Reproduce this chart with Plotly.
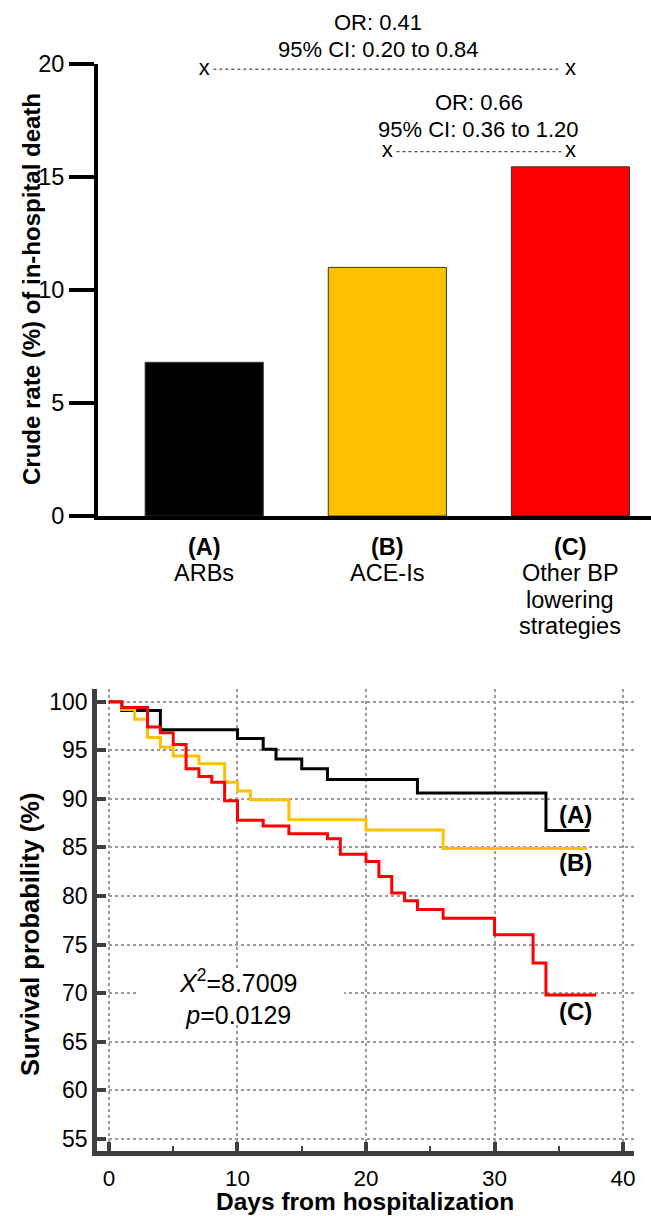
import plotly.graph_objects as go

# ---------------- data: bar chart ----------------
bar_letters = ["(A)", "(B)", "(C)"]
bar_names = [["ARBs"], ["ACE-Is"], ["Other BP", "lowering", "strategies"]]
bar_values = [6.8, 11.0, 15.45]
bar_colors = ["#000000", "#FFC000", "#FF0000"]

cmp1_from, cmp1_to, cmp1_y = 0, 2, 19.77
cmp1_lines = ["OR: 0.41", "95% CI: 0.20 to 0.84"]
cmp2_from, cmp2_to, cmp2_y = 1, 2, 16.12
cmp2_lines = ["OR: 0.66", "95% CI: 0.36 to 1.20"]

# ---------------- data: Kaplan-Meier ----------------
a_days = [0, 1, 4, 10, 12, 13, 15, 17, 24, 34, 37.4]
a_surv = [100, 99.1, 97.1, 96.2, 95.1, 94.1, 93.1, 92.0, 90.6, 86.75, 86.75]
b_days = [0, 1, 2, 3, 4, 5, 7, 9, 10, 11, 14, 20, 26, 37.2]
b_surv = [100, 99.2, 98.2, 96.3, 95.3, 94.4, 93.6, 91.7, 90.8, 89.9, 87.85, 86.8, 84.9, 84.9]
c_days = [0, 1, 3, 4, 5, 6, 7, 8, 9, 10, 12, 14, 17, 18, 20, 21, 22, 23, 24, 26, 30, 33, 34, 37.9]
c_surv = [100, 99.4, 97.4, 96.8, 95.6, 93.1, 92.3, 91.7, 89.8, 87.8, 87.2, 86.4, 85.9, 84.3,
          83.55, 82.0, 80.3, 79.5, 78.6, 77.7, 76.0, 73.1, 69.8, 69.8]
km_labels = ["(A)", "(B)", "(C)"]
km_label_y = [88.4, 83.45, 68.1]
chi_text = "<i>X</i><sup>2</sup>=8.7009<br><i>p</i>=0.0129"

FONT = "Arial, Liberation Sans, sans-serif"
W, H = 651, 1216

fig = go.Figure()

# bars
fig.add_trace(go.Bar(
    x=[0, 1, 2], y=bar_values, width=0.645,
    marker=dict(color=bar_colors, line=dict(color="#333333", width=1)),
    xaxis="x", yaxis="y", showlegend=False, hoverinfo="skip"))

# comparison brackets
for x0, x1, yy in [(cmp1_from, cmp1_to, cmp1_y), (cmp2_from, cmp2_to, cmp2_y)]:
    fig.add_trace(go.Scatter(
        x=[x0 + 0.05, x1 - 0.05], y=[yy, yy], mode="lines",
        line=dict(color="#222222", width=1, dash="dot"),
        xaxis="x", yaxis="y", showlegend=False, hoverinfo="skip", cliponaxis=False))
    fig.add_trace(go.Scatter(
        x=[x0, x1], y=[yy, yy], mode="text", text=["x", "x"],
        textposition="middle center", textfont=dict(size=22, color="#000000", family=FONT),
        xaxis="x", yaxis="y", showlegend=False, hoverinfo="skip", cliponaxis=False))

# KM curves
for d, s, col in [(a_days, a_surv, "#000000"), (b_days, b_surv, "#FFC000"), (c_days, c_surv, "#FF0000")]:
    fig.add_trace(go.Scatter(
        x=d, y=s, mode="lines", line=dict(color=col, width=3, shape="hv"),
        xaxis="x2", yaxis="y2", showlegend=False, hoverinfo="skip"))

def px_x(p):
    return p / W

def px_y(p):
    return 1 - p / H

annotations = [
    dict(text="<b>Crude rate (%) of in-hospital death</b>", x=px_x(31), y=px_y(289),
         xref="paper", yref="paper", showarrow=False, textangle=-90,
         xanchor="center", yanchor="middle",
         font=dict(size=24, family=FONT, color="#000000")),
    dict(text="<b>Survival probability (%)</b>", x=px_x(30), y=px_y(935),
         xref="paper", yref="paper", showarrow=False, textangle=-90,
         xanchor="center", yanchor="middle",
         font=dict(size=25.5, family=FONT, color="#000000")),
    dict(text="<b>Days from hospitalization</b>", x=px_x(365), y=px_y(1201),
         xref="paper", yref="paper", showarrow=False,
         xanchor="center", yanchor="middle",
         font=dict(size=24.5, family=FONT, color="#000000")),
    dict(text=chi_text, x=10.1, y=69.65, xref="x2", yref="y2", showarrow=False,
         xanchor="center", yanchor="middle",
         font=dict(size=25, family=FONT, color="#000000"), align="center"),
]
# comparison texts (one annotation per line)
for xc, lines, ys in [(0.95, cmp1_lines, [23, 49.5]), (1.5, cmp2_lines, [103, 129])]:
    for txt, yp in zip(lines, ys):
        annotations.append(dict(text=txt, x=xc, y=px_y(yp), xref="x", yref="paper",
                                showarrow=False, xanchor="center", yanchor="middle",
                                font=dict(size=22, family=FONT, color="#000000")))
for lab, yy in zip(km_labels, km_label_y):
    annotations.append(dict(text="<b>" + lab + "</b>", x=36.3, y=yy, xref="x2", yref="y2",
                            xanchor="center", yanchor="middle",
                            showarrow=False, font=dict(size=24, family=FONT, color="#000000")))

# category labels under the bars (one text per line)
line_px = [546.7, 573, 599.5, 626]
for i, (lab, names) in enumerate(zip(bar_letters, bar_names)):
    annotations.append(dict(text="<b>" + lab + "</b>", x=i, y=px_y(line_px[0]), xref="x",
                            yref="paper", showarrow=False, xanchor="center", yanchor="middle",
                            font=dict(size=23.5, family=FONT, color="#000000")))
    for j, nm in enumerate(names):
        annotations.append(dict(text=nm, x=i, y=px_y(line_px[j + 1]), xref="x",
                                yref="paper", showarrow=False, xanchor="center",
                                yanchor="middle",
                                font=dict(size=23.5, family=FONT, color="#000000")))

fig.update_layout(
    width=W, height=H, margin=dict(l=0, r=0, t=0, b=0),
    paper_bgcolor="white", plot_bgcolor="white",
    font=dict(family=FONT, size=22, color="#000000"),
    showlegend=False,
    xaxis=dict(domain=[98 / W, 1.0], anchor="y", range=[-0.58, 2.44],
               tickvals=[0, 1, 2], showticklabels=False,
               ticks="", showline=True, linecolor="#000000", linewidth=4,
               showgrid=False, zeroline=False, automargin=False),
    yaxis=dict(domain=[px_y(516), px_y(64)], anchor="x", range=[0, 20],
               tickvals=[0, 5, 10, 15, 20], ticks="outside", ticklen=25, tickwidth=4,
               tickcolor="#000000", showline=True, linecolor="#000000", linewidth=4,
               showgrid=False, zeroline=False, tickfont=dict(size=23.5), automargin=False),
    xaxis2=dict(domain=[97 / W, 634 / W], anchor="y2", range=[-0.93, 40.85],
                tickvals=[0, 10, 20, 30, 40], ticks="inside", ticklen=9, tickwidth=4,
                tickcolor="#404040", showline=True, linecolor="#404040", linewidth=4.5,
                showgrid=True, gridcolor="#9a9a9a", gridwidth=1.5, griddash="dot",
                zeroline=False, tickfont=dict(size=22.5), ticklabelstandoff=3,
                minor=dict(tickvals=[5, 15, 25, 35], ticks="inside", ticklen=5, tickwidth=2,
                           tickcolor="#404040", showgrid=False),
                automargin=False),
    yaxis2=dict(domain=[px_y(1151), px_y(689)], anchor="x2", range=[53.76, 101.3],
                tickvals=[55, 60, 65, 70, 75, 80, 85, 90, 95, 100], ticks="inside",
                ticklen=9, tickwidth=4, tickcolor="#404040", showline=True,
                linecolor="#404040", linewidth=4.5,
                showgrid=True, gridcolor="#9a9a9a", gridwidth=1.5, griddash="dot",
                zeroline=False, tickfont=dict(size=23), automargin=False),
    annotations=annotations,
    shapes=[dict(type="rect", xref="x2", yref="y2", x0=2.2, x1=18.3, y0=66.9, y1=72.6,
                 fillcolor="white", line=dict(width=0), layer="between")],
)

fig.write_html(
    "out.html",
    config={"displayModeBar": False},
    post_script="document.body.style.margin='0';document.body.style.padding='0';"
                "document.body.style.overflow='hidden';",
)
